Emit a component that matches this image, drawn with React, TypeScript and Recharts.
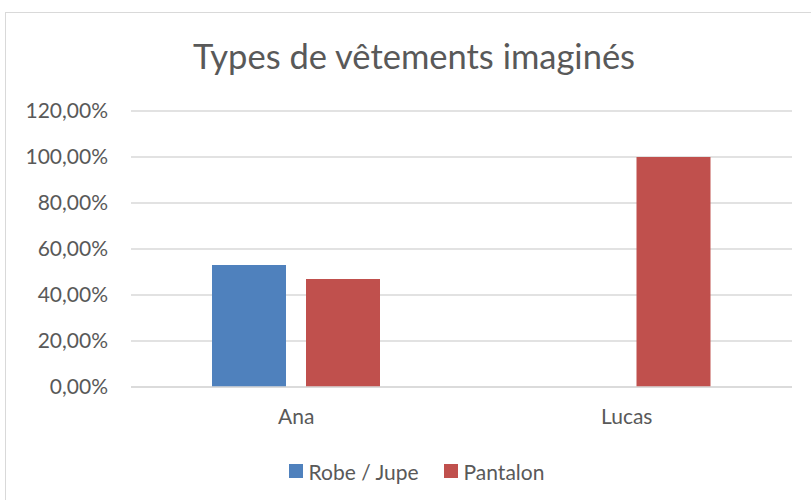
import React from 'react';
import { BarChart, Bar, XAxis, YAxis, CartesianGrid, Legend } from 'recharts';

const categories = ['Ana', 'Lucas'];
const robeJupe = [0.53, 0];
const pantalon = [0.47, 1.0];
const yTicks = [0, 0.2, 0.4, 0.6, 0.8, 1.0, 1.2];
const seriesNames = ['Robe / Jupe', 'Pantalon'];
const seriesColors = ['#4F81BD', '#C0504D'];

const data = categories.map((c, i) => ({ name: c, robe: robeJupe[i], pantalon: pantalon[i] }));

const FONT = 'Lato, "Open Sans", sans-serif';
const TEXT = '#595959';

const fmt = (v: number) => (v * 100).toFixed(2).replace('.', ',') + '%';

const LegendContent = () => {
  return (
    <div style={{ display: 'flex', justifyContent: 'center', alignItems: 'center', height: 30, fontFamily: FONT, fontSize: 21, color: TEXT, paddingLeft: 22 }}>
      {seriesNames.map((n, i) => (
        <div key={n} style={{ display: 'flex', alignItems: 'center', marginRight: i === 0 ? 25 : 0 }}>
          <div style={{ width: 14, height: 14, background: seriesColors[i], marginRight: 6 }} />
          <span>{n}</span>
        </div>
      ))}
    </div>
  );
};

export default function App() {
  return (
    <div style={{ position: 'absolute', left: 0, top: 0, width: 811, height: 500, overflow: 'hidden', background: '#fff' }}>
      <div style={{ position: 'absolute', left: 5, top: 12, width: 900, height: 600, border: '1px solid #D9D9D9', boxSizing: 'border-box' }} />
      <div style={{ position: 'absolute', left: 0, top: 35, width: 828, textAlign: 'center', fontFamily: FONT, fontSize: 34.5, color: TEXT }}>
        Types de vêtements imaginés
      </div>
      <div style={{ position: 'absolute', left: 0, top: 0 }}>
        <BarChart width={811} height={500} data={data} margin={{ top: 111, right: 19, bottom: 53, left: 0 }} barSize={74} barGap={20}>
          <CartesianGrid vertical={false} stroke="#D9D9D9" strokeWidth={1.5} />
          <XAxis dataKey="name" axisLine={{ stroke: '#D9D9D9', strokeWidth: 1.5 }} tickLine={false} tickSize={0} tickMargin={22} height={30}
            tick={{ fill: TEXT, fontSize: 21, fontFamily: FONT }} />
          <YAxis domain={[0, 1.2]} ticks={yTicks} tickFormatter={fmt} axisLine={false} tickLine={false} tickSize={0} tickMargin={23} width={131}
            tick={{ fill: TEXT, fontSize: 21, fontFamily: FONT }} />
          <Legend content={<LegendContent />} verticalAlign="bottom" height={30} wrapperStyle={{ top: 456, left: 0, width: 811, bottom: 'auto' }} />
          <Bar dataKey="robe" name={seriesNames[0]} fill={seriesColors[0]} isAnimationActive={false} />
          <Bar dataKey="pantalon" name={seriesNames[1]} fill={seriesColors[1]} isAnimationActive={false} />
        </BarChart>
      </div>
    </div>
  );
}
